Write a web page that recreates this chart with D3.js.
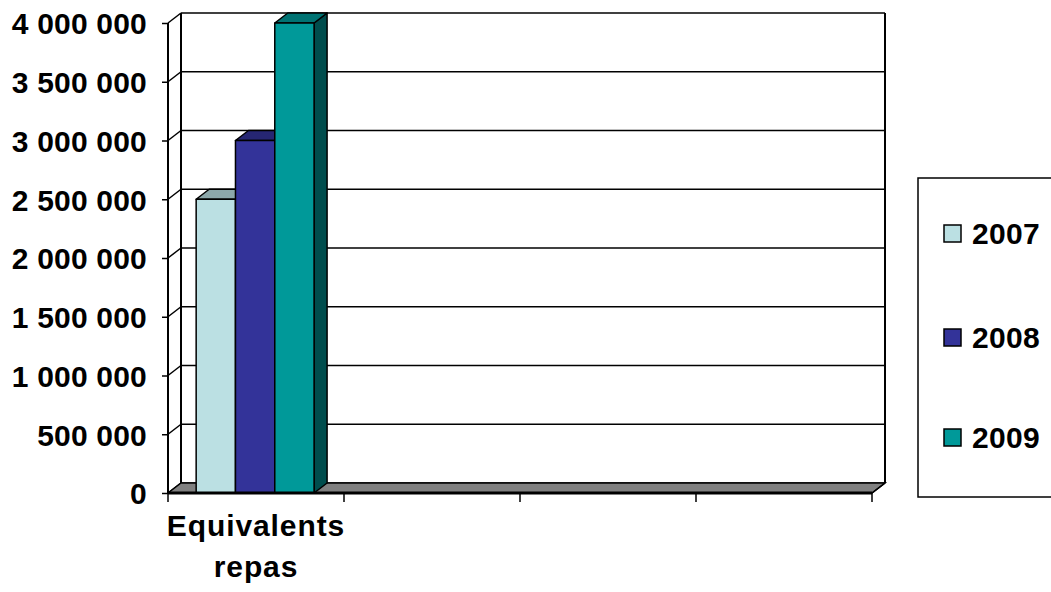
<!DOCTYPE html>
<html><head><meta charset="utf-8">
<script src="https://cdn.jsdelivr.net/npm/d3@7"></script>
<style>html,body{margin:0;padding:0;background:#fff;}svg{display:block;}</style>
</head><body>
<svg id="c" width="1051" height="592"></svg>
<script>
const categories = ["Equivalents repas", "", "", ""];
const series = ["2007", "2008", "2009"];
const values2007 = [2500000, null, null, null];
const values2008 = [3000000, null, null, null];
const values2009 = [4000000, null, null, null];
const yTicks = [0, 500000, 1000000, 1500000, 2000000, 2500000, 3000000, 3500000, 4000000];

const seriesValues = [values2007, values2008, values2009];
const frontCol = ["#BBE0E3", "#333399", "#009999"];
const topCol = ["#8CA8AA", "#262673", "#007373"];
const sideCol = ["#6F8688", "#1A1A4D", "#004D4D"];

const svg = d3.select("#c");
const font = "'Liberation Sans', Arial, sans-serif";
const DX = 13, DY = 10;
const pLeft = 168, pRight = 872, pBottom = 493, pTop = 23;

const y = d3.scaleLinear().domain([0, 4000000]).range([pBottom, pTop]);
const x0 = d3.scaleBand().domain(d3.range(categories.length)).range([pLeft, pRight]).padding(0);
const bw = x0.bandwidth();
const x1 = d3.scaleBand().domain(series).range([bw * 0.16, bw * 0.83]).padding(0);
const fmt = d3.formatLocale({decimal: ",", thousands: " ", grouping: [3], currency: ["", ""]}).format(",");

// back wall gridlines
svg.append("g").selectAll("line").data(yTicks).join("line")
  .attr("x1", pLeft + DX).attr("x2", pRight + DX)
  .attr("y1", d => y(d) - DY).attr("y2", d => y(d) - DY)
  .attr("stroke", "#000").attr("stroke-width", 1.5);
// back wall left and right edges
svg.append("line").attr("x1", pLeft + DX).attr("x2", pLeft + DX).attr("y1", y(4000000) - DY).attr("y2", y(0) - DY)
  .attr("stroke", "#000").attr("stroke-width", 2);
svg.append("line").attr("x1", pRight + DX).attr("x2", pRight + DX).attr("y1", y(4000000) - DY).attr("y2", y(0) - DY)
  .attr("stroke", "#000").attr("stroke-width", 2);
// side wall diagonals
svg.append("g").selectAll("line").data(yTicks).join("line")
  .attr("x1", pLeft).attr("x2", pLeft + DX)
  .attr("y1", d => y(d)).attr("y2", d => y(d) - DY)
  .attr("stroke", "#000").attr("stroke-width", 1.5);
// floor
svg.append("path")
  .attr("d", `M${pLeft},${y(0)}L${pLeft + DX},${y(0) - DY}L${pRight + DX},${y(0) - DY}L${pRight},${y(0)}Z`)
  .attr("fill", "#808080").attr("stroke", "#000").attr("stroke-width", 1.5);

// bars
const bars = svg.append("g");
categories.forEach((c, ci) => {
  series.forEach((s, si) => {
    const v = seriesValues[si][ci];
    if (v == null) return;
    const xa = x0(ci) + x1(s), xb = xa + x1.bandwidth();
    const yt = y(v), yb = y(0);
    const g = bars.append("g").attr("stroke", "#000").attr("stroke-width", 1.5).attr("stroke-linejoin", "round");
    g.append("path").attr("d", `M${xb},${yt}L${xb + DX},${yt - DY}L${xb + DX},${yb - DY}L${xb},${yb}Z`).attr("fill", sideCol[si]);
    g.append("path").attr("d", `M${xa},${yt}L${xa + DX},${yt - DY}L${xb + DX},${yt - DY}L${xb},${yt}Z`).attr("fill", topCol[si]);
    g.append("rect").attr("x", xa).attr("y", yt).attr("width", xb - xa).attr("height", yb - yt).attr("fill", frontCol[si]);
  });
});

// y axis
const yAxis = svg.append("g").attr("transform", `translate(${pLeft},0)`)
  .call(d3.axisLeft(y).tickValues(yTicks).tickSize(6).tickPadding(15).tickFormat(fmt));
yAxis.select(".domain").attr("stroke", "#000").attr("stroke-width", 2).attr("d", `M0,${pTop}V${pBottom}`);
yAxis.selectAll(".tick line").attr("stroke", "#000").attr("stroke-width", 1.5);
yAxis.selectAll(".tick text").attr("font-family", font).attr("font-size", 30).attr("font-weight", "bold")
  .attr("letter-spacing", 0.2).attr("fill", "#000").attr("dy", "0.36em");

// x axis front line and ticks at band boundaries
svg.append("line").attr("x1", pLeft).attr("x2", pRight).attr("y1", pBottom).attr("y2", pBottom)
  .attr("stroke", "#000").attr("stroke-width", 3);
svg.append("line").attr("x1", pRight).attr("x2", pRight + DX).attr("y1", pBottom).attr("y2", pBottom - DY)
  .attr("stroke", "#000").attr("stroke-width", 1.5);
const bounds = d3.range(categories.length + 1).map(i => i < categories.length ? x0(i) : x0(i - 1) + bw);
svg.append("g").selectAll("line").data(bounds).join("line")
  .attr("x1", d => d).attr("x2", d => d).attr("y1", pBottom).attr("y2", pBottom + 9)
  .attr("stroke", "#000").attr("stroke-width", 1.5);
// category labels
categories.forEach((c, ci) => {
  if (!c) return;
  const words = c.split(" ");
  const t = svg.append("text").attr("text-anchor", "middle").attr("font-family", font)
    .attr("font-size", 30).attr("font-weight", "bold").attr("letter-spacing", 0.9).attr("fill", "#000");
  words.forEach((w, wi) => {
    t.append("tspan").attr("x", x0(ci) + bw / 2).attr("y", 536 + wi * 41).text(w);
  });
});

// legend
const lg = svg.append("g");
lg.append("rect").attr("x", 918).attr("y", 178).attr("width", 140).attr("height", 319)
  .attr("fill", "#fff").attr("stroke", "#000").attr("stroke-width", 1.5);
const ly = [233, 337, 437];
series.forEach((s, si) => {
  lg.append("rect").attr("x", 944).attr("y", ly[si] - 8).attr("width", 17).attr("height", 17)
    .attr("fill", frontCol[si]).attr("stroke", "#000").attr("stroke-width", 1.5);
  lg.append("text").attr("x", 972).attr("y", ly[si] + 11).attr("font-family", font)
    .attr("font-size", 30).attr("font-weight", "bold").attr("letter-spacing", 0.3).attr("fill", "#000").text(s);
});
</script>
</body></html>
